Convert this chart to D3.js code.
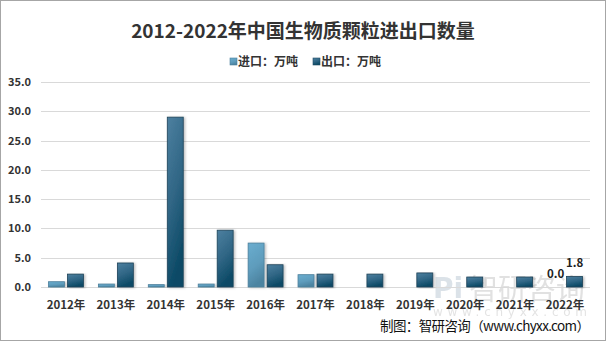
<!DOCTYPE html>
<html>
<head>
<meta charset="utf-8">
<script src="https://cdn.jsdelivr.net/npm/d3@7/dist/d3.min.js"></script>
<style>
html,body{margin:0;padding:0;background:#fff;}
svg{display:block;}
</style>
</head>
<body>
<svg id="chart" width="606" height="341"></svg>
<script>
const categories = ["2012年","2013年","2014年","2015年","2016年","2017年","2018年","2019年","2020年","2021年","2022年"];
const seriesNames = ["进口：万吨","出口：万吨"];
const importValues = [0.9, 0.5, 0.4, 0.5, 7.5, 2.1, 0.0, 0.0, 0.0, 0.0, 0.0];
const exportValues = [2.2, 4.1, 29.0, 9.7, 3.8, 2.2, 2.2, 2.4, 1.7, 1.7, 1.8];
const yTicks = [0, 5, 10, 15, 20, 25, 30, 35];
const titleText = "2012-2022年中国生物质颗粒进出口数量";
const sourceText = "制图：智研咨询（www.chyxx.com）";

const svg = d3.select("#chart");
const font = "'Noto Sans CJK SC','Noto Sans',sans-serif";

// gradients
const defs = svg.append("defs");
function grad(id, stops, x2, y2){
  const g = defs.append("linearGradient").attr("id", id)
    .attr("x1","0").attr("y1","0").attr("x2",x2).attr("y2",y2);
  stops.forEach(s => g.append("stop").attr("offset", s[0]).attr("stop-color", s[1]));
}
grad("gImp", [["0%","#6aadcf"],["60%","#5e9cbc"],["100%","#4c84a1"]], "0.3", "1");
grad("gExp", [["0%","#4d80a0"],["55%","#2f6584"],["100%","#0c4a66"]], "0.3", "1");
const filt = defs.append("filter").attr("id","sh").attr("x","-20%").attr("y","-5%").attr("width","150%").attr("height","115%");
filt.append("feDropShadow").attr("dx",1.5).attr("dy",0.5).attr("stdDeviation",1).attr("flood-color","#000").attr("flood-opacity",0.25);

// border
svg.append("rect").attr("x",0.5).attr("y",0.5).attr("width",605).attr("height",340)
  .attr("fill","#fff").attr("stroke","#a6a6a6");

// title
svg.append("text").attr("x",303).attr("y",38).attr("text-anchor","middle")
  .attr("font-family",font).attr("font-weight","bold").attr("font-size",19)
  .attr("fill","#333").text(titleText);

// legend
const legendX = [230, 313];
seriesNames.forEach((n,i)=>{
  svg.append("rect").attr("x",legendX[i]).attr("y",58).attr("width",7).attr("height",7)
    .attr("fill", i===0 ? "url(#gImp)" : "url(#gExp)").attr("stroke", i===0?"#4a7f9c":"#1f4a63").attr("stroke-width",0.6);
  svg.append("text").attr("x",legendX[i]+8).attr("y",66).attr("font-family",font)
    .attr("font-weight","bold").attr("font-size",12).attr("fill","#333").text(n);
});

// watermark
const wm = svg.append("g").attr("opacity",0.5);
wm.append("text").attr("x",433).attr("y",298).attr("font-family","'DejaVu Sans',sans-serif")
  .attr("font-weight","bold").attr("font-size",28).attr("fill","#b9c6d2").text("Pi");
wm.append("text").attr("x",469).attr("y",300).attr("font-family",font)
  .attr("font-size",29).attr("fill","#c4c4c4").text("智研咨询");
wm.append("text").attr("x",433).attr("y",316).attr("font-family","'DejaVu Sans',sans-serif")
  .attr("font-size",12).attr("fill","#c8c8c8").attr("textLength",154).text("www.chyxx.com");

// scales
const x0 = d3.scaleBand().domain(categories).range([41, 590]).padding(0);
const bw = x0.bandwidth();
const x1 = d3.scaleBand().domain(seriesNames).range([bw*0.15, bw*0.85]).paddingInner(0.16);
const y = d3.scaleLinear().domain([0, 35]).range([287, 82]);

// gridlines
svg.append("g").selectAll("line").data(yTicks).join("line")
  .attr("x1",41).attr("x2",590).attr("y1",d=>Math.round(y(d))+0.5).attr("y2",d=>Math.round(y(d))+0.5)
  .attr("stroke","#d9d9d9").attr("stroke-width",1);

// y axis labels
const yAxis = d3.axisLeft(y).tickValues(yTicks).tickFormat(d3.format(".1f")).tickSize(0).tickPadding(0);
const gy = svg.append("g").attr("transform","translate(31,0)").call(yAxis);
gy.select(".domain").remove();
gy.selectAll("text").attr("font-family",font).attr("font-weight","bold").attr("font-size",11).attr("fill","#333");

// x axis labels
const xAxis = d3.axisBottom(x0).tickSize(0).tickPadding(0);
const gx = svg.append("g").attr("transform","translate(0,301)").call(xAxis);
gx.select(".domain").remove();
gx.selectAll("text").attr("font-family",font).attr("font-weight","bold").attr("font-size",11.5).attr("fill","#333");

// bars
const data = categories.map((c,i)=>({cat:c, vals:[{s:seriesNames[0],v:importValues[i]},{s:seriesNames[1],v:exportValues[i]}]}));
const groups = svg.append("g").selectAll("g").data(data).join("g")
  .attr("transform", d=>`translate(${x0(d.cat)},0)`);
groups.selectAll("rect").data(d=>d.vals.filter(v=>v.v>0)).join("rect")
  .attr("x", d=>x1(d.s)).attr("width", x1.bandwidth())
  .attr("y", d=>y(d.v)).attr("height", d=>y(0)-y(d.v))
  .attr("fill", d=>d.s===seriesNames[0] ? "url(#gImp)" : "url(#gExp)")
  .attr("stroke", d=>d.s===seriesNames[0] ? "#4b7f9b" : "#1d4257")
  .attr("stroke-width",0.8)
  .attr("filter","url(#sh)");

// data labels for 2022
const last = categories.length-1;
[[seriesNames[0], importValues[last]],[seriesNames[1], exportValues[last]]].forEach(([s,v])=>{
  svg.append("text").attr("x", x0(categories[last]) + x1(s) + x1.bandwidth()/2)
    .attr("y", y(v) - 9).attr("text-anchor","middle")
    .attr("font-family",font).attr("font-weight","bold").attr("font-size",11.5).attr("fill","#222")
    .text(d3.format(".1f")(v));
});

// source
svg.append("text").attr("x",380).attr("y",331).attr("font-family",font)
  .attr("font-size",13.5).attr("fill","#111").attr("textLength",210).text(sourceText);
</script>
</body>
</html>
